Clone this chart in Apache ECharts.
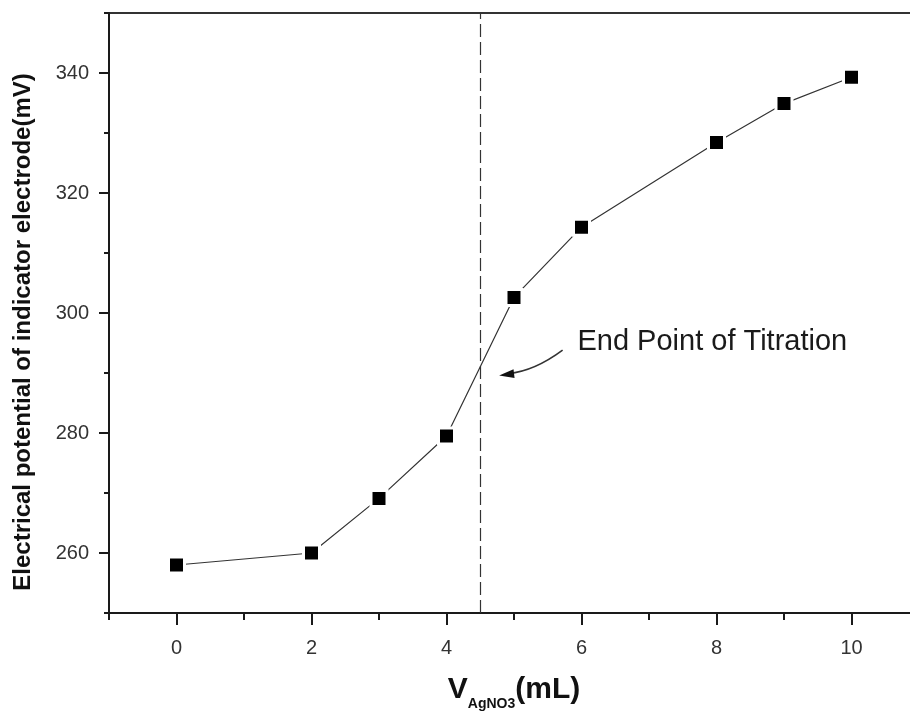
<!DOCTYPE html>
<html>
<head>
<meta charset="utf-8">
<script src="https://cdn.jsdelivr.net/npm/echarts@6/dist/echarts.min.js"></script>
<style>
  html, body { margin: 0; padding: 0; background: #fff; overflow: hidden; }
  #chart { width: 910px; height: 713px; }
</style>
</head>
<body>
<div id="chart"></div>
<script>
// Potentiometric titration with AgNO3
const volumes = [0, 2, 3, 4, 5, 6, 8, 9, 10];               // mL
const potentials = [258.0, 260.0, 269.1, 279.5, 302.6, 314.3, 328.4, 334.9, 339.3]; // mV
const endPointVolume = 4.5;
const endPointLabel = 'End Point of Titration';

const xMajorTicks = [0, 2, 4, 6, 8, 10];
const xMinorTicks = [-1, 1, 3, 5, 7, 9, 11];
const yMajorTicks = [260, 280, 300, 320, 340];
const yMinorTicks = [250, 270, 290, 310, 330, 350];

const FONT = 'Arial, "Liberation Sans", Helvetica, sans-serif';
const AXIS_COLOR = '#1a1a1a';

const chart = echarts.init(document.getElementById('chart'), null, { renderer: 'canvas' });

const baseX = {
  type: 'value', min: -1, max: 11, gridIndex: 0,
  splitLine: { show: false }
};
const baseY = {
  type: 'value', min: 250, max: 350, gridIndex: 0,
  splitLine: { show: false }
};

const option = {
  backgroundColor: '#fff',
  animation: false,
  grid: {
    left: 109, top: 13, width: 810, height: 600,
    outerBoundsMode: 'none',
    containLabel: false,
    show: true, borderColor: '#333', borderWidth: 2, backgroundColor: 'transparent'
  },
  xAxis: [
    Object.assign({}, baseX, {
      position: 'bottom',
      axisLine: { show: true, onZero: false, lineStyle: { color: AXIS_COLOR, width: 2 } },
      axisTick: { show: true, customValues: xMajorTicks, length: 12, lineStyle: { color: AXIS_COLOR, width: 2 } },
      axisLabel: { show: true, customValues: xMajorTicks, margin: 25, fontSize: 20, color: '#333', fontFamily: FONT },
      name: '{v|V}{s|AgNO3}{u|(mL)}',
      nameLocation: 'middle',
      nameGap: 58,
      nameTextStyle: {
        rich: {
          v: { fontSize: 30, fontWeight: 'bold', color: '#111', fontFamily: FONT, verticalAlign: 'bottom', lineHeight: 34 },
          s: { fontSize: 14, fontWeight: 'bold', color: '#111', fontFamily: FONT, verticalAlign: 'bottom', lineHeight: 20, padding: [0, 0, -6, 0] },
          u: { fontSize: 30, fontWeight: 'bold', color: '#111', fontFamily: FONT, verticalAlign: 'bottom', lineHeight: 34 }
        }
      }
    }),
    Object.assign({}, baseX, {
      position: 'bottom',
      axisLine: { show: false, onZero: false },
      axisTick: { show: true, customValues: xMinorTicks, length: 7, lineStyle: { color: AXIS_COLOR, width: 2 } },
      axisLabel: { show: false }
    })
  ],
  yAxis: [
    Object.assign({}, baseY, {
      position: 'left',
      axisLine: { show: true, onZero: false, lineStyle: { color: AXIS_COLOR, width: 2 } },
      axisTick: { show: true, customValues: yMajorTicks, length: 10, lineStyle: { color: AXIS_COLOR, width: 2 } },
      axisLabel: { show: true, customValues: yMajorTicks, margin: 20, fontSize: 20, color: '#333', fontFamily: FONT },
      name: 'Electrical potential of indicator electrode(mV)',
      nameLocation: 'middle',
      nameRotate: 90,
      nameGap: 74,
      nameTextStyle: { fontSize: 24, fontWeight: 'bold', color: '#111', fontFamily: FONT, padding: [0, 38, 0, 0] }
    }),
    Object.assign({}, baseY, {
      position: 'left',
      axisLine: { show: false, onZero: false },
      axisTick: { show: true, customValues: yMinorTicks, length: 5, lineStyle: { color: AXIS_COLOR, width: 2 } },
      axisLabel: { show: false }
    })
  ],
  series: [
    {
      type: 'line',
      xAxisIndex: 0,
      yAxisIndex: 0,
      data: volumes.map((v, i) => [v, potentials[i]]),
      symbol: 'rect',
      symbolSize: 16,
      lineStyle: { color: '#333', width: 1.2 },
      itemStyle: { color: '#000', borderColor: '#fff', borderWidth: 3 },
      z: 3,
      markLine: {
        silent: true,
        symbol: ['none', 'none'],
        label: { show: false },
        lineStyle: { color: '#333', width: 1.2, type: [13, 5] },
        data: [{ xAxis: endPointVolume }],
        z: 1
      }
    }
  ]
};

chart.setOption(option);

// Curved arrow pointing at the end point, anchored in data coordinates
const toPx = (p) => chart.convertToPixel({ gridIndex: 0 }, p);
const textAnchor = toPx([5.94, 295.6]);
const arrowStart = toPx([5.72, 293.8]);
const arrowCtrl = toPx([5.30, 290.3]);
const arrowEnd = toPx([4.92, 289.9]);
const tip = toPx([4.78, 289.6]);

// arrowhead oriented along the curve's final tangent
const dx = tip[0] - arrowCtrl[0], dy = tip[1] - arrowCtrl[1];
const len = Math.hypot(dx, dy);
const ux = dx / len, uy = dy / len;
const headLen = 15, headHalf = 4.5;
const bx = tip[0] - ux * headLen, by = tip[1] - uy * headLen;
const head = [
  tip,
  [bx - uy * headHalf, by + ux * headHalf],
  [bx + uy * headHalf, by - ux * headHalf]
];

chart.setOption({
  graphic: [
    {
      type: 'text',
      left: textAnchor[0], top: textAnchor[1] - 12,
      style: { text: endPointLabel, fontSize: 29, fill: '#1a1a1a', fontFamily: FONT }
    },
    {
      type: 'bezierCurve',
      shape: { x1: arrowStart[0], y1: arrowStart[1], x2: arrowEnd[0], y2: arrowEnd[1], cpx1: arrowCtrl[0], cpy1: arrowCtrl[1] },
      style: { stroke: '#333', lineWidth: 1.6, fill: null }
    },
    {
      type: 'polygon',
      shape: { points: head },
      style: { fill: '#111' }
    }
  ]
});
</script>
</body>
</html>
